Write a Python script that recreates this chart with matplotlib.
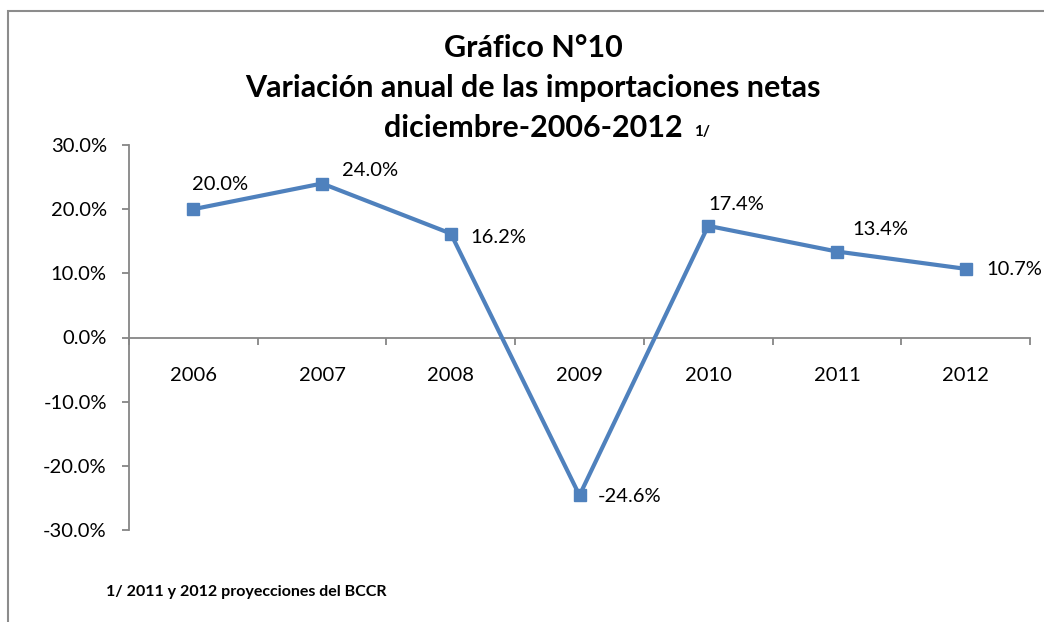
import matplotlib
matplotlib.use("Agg")
import matplotlib.pyplot as plt
from matplotlib.patches import Rectangle
from matplotlib.ticker import FixedLocator, FuncFormatter

plt.rcParams["font.family"] = ["Lato", "DejaVu Sans"]

years = ["2006", "2007", "2008", "2009", "2010", "2011", "2012"]
variacion = [20.0, 24.0, 16.2, -24.6, 17.4, 13.4, 10.7]

# label offsets in pixels (dx to left edge, dy up) -- placement only
label_offsets = [(-1, 25), (20, 13), (20, -4), (18, -1), (0, 21), (15, 22), (21, -1)]

BLUE = "#4F81BD"
GREY = "#868686"

fig = plt.figure(figsize=(10.44, 6.22), dpi=100)
ax = fig.add_axes([129 / 1044, 92 / 622, 901 / 1044, 385 / 622])

x = range(len(years))
ax.plot(x, variacion, color=BLUE, lw=3, marker="s", ms=8.5, zorder=3)

for xi, v, (dx, dy) in zip(x, variacion, label_offsets):
    ax.annotate(f"{v:.1f}%", (xi, v), xytext=(dx * 0.72, dy * 0.72),
                textcoords="offset points", ha="left", va="center",
                fontsize=14.5, color="black")

ax.set_xlim(-0.5, len(years) - 0.5)
ax.set_ylim(-30, 30)
ax.yaxis.set_major_locator(FixedLocator([-30, -20, -10, 0, 10, 20, 30]))
ax.yaxis.set_major_formatter(FuncFormatter(lambda v, p: f"{v:.1f}%"))

ax.xaxis.set_major_locator(FixedLocator([i - 0.5 for i in range(len(years) + 1)]))
ax.xaxis.set_major_formatter(FuncFormatter(lambda v, p: ""))
ax.xaxis.set_minor_locator(FixedLocator(list(x)))
ax.set_xticklabels(years, minor=True)

for s in ["top", "right"]:
    ax.spines[s].set_visible(False)
ax.spines["bottom"].set_position(("data", 0))
ax.spines["bottom"].set_color(GREY)
ax.spines["left"].set_color(GREY)
ax.spines["bottom"].set_linewidth(1.3)
ax.spines["left"].set_linewidth(1.3)

ax.tick_params(axis="y", which="major", length=5, width=1.3, color=GREY,
               labelsize=14.5, pad=11)
ax.tick_params(axis="x", which="major", direction="out", length=5, width=1.3,
               color=GREY)
ax.tick_params(axis="x", which="minor", length=0, labelsize=14.5, pad=21)

fig.text(533 / 1044, 1 - 48 / 622, "Gráfico N°10", ha="center", va="center",
         fontsize=22, fontweight="bold")
fig.text(533 / 1044, 1 - 88 / 622, "Variación anual de las importaciones netas",
         ha="center", va="center", fontsize=22, fontweight="bold")
t = fig.text(533 / 1044, 1 - 128 / 622, "diciembre-2006-2012", ha="center",
             va="center", fontsize=22, fontweight="bold")
fig.canvas.draw()
bb = t.get_window_extent()
fig.text((bb.x1 + 12) / 1044, 1 - 132 / 622, "1/", ha="left", va="center",
         fontsize=11, fontweight="bold")

fig.text(106 / 1044, 1 - 592 / 622, "1/ 2011 y 2012 proyecciones del BCCR",
         ha="left", va="center", fontsize=11.5, fontweight="bold")

fig.patches.append(Rectangle((8 / 1044, -0.05), 1.1, 1.05 - 11 / 622,
                             transform=fig.transFigure, fill=False,
                             edgecolor="#8C8C8C", lw=1.5))

fig.savefig("out.png", dpi=100, facecolor="white")
